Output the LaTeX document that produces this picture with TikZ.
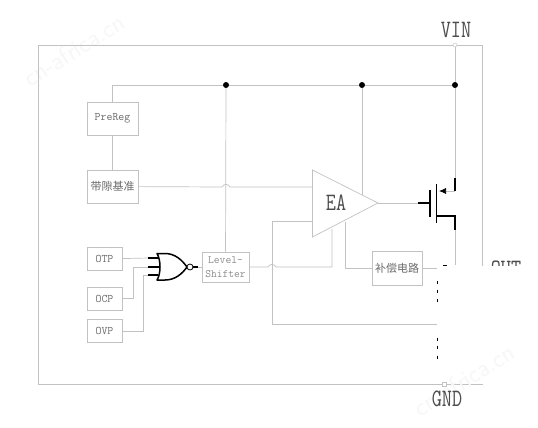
\documentclass[tikz,border=0pt]{standalone}
\usepackage{fontspec}
\usepackage{tikz}
\usetikzlibrary{arrows.meta,positioning}
\newfontfamily\cjkfont{Noto Sans CJK SC}
\definecolor{wireGrey}{gray}{0.76}
\definecolor{textGrey}{gray}{0.42}
\definecolor{markGrey}{gray}{0.968}
\newcommand\tallText[1]{\scalebox{.98}[1.25]{#1}}

\begin{document}
\begin{tikzpicture}[x=1pt,y=-1pt,
  wire/.style={draw=wireGrey,line width=.7pt},
  thick wire/.style={draw=black,line width=1.1pt},
  block/.style={draw=wireGrey,line width=.7pt,inner sep=0pt,text=textGrey,align=center,
    font=\ttfamily\fontsize{11.5}{12}\selectfont},
  cjk block/.style={block,font=\cjkfont\fontsize{11}{12}\selectfont},
  pinlabel/.style={text=black!70,font=\ttfamily\fontsize{20}{20}\selectfont},
  junction/.style={circle,fill=black,inner sep=0pt,minimum size=6pt},
  terminal/.style={draw=wireGrey,fill=white,inner sep=0pt,minimum size=4pt},
  watermark/.style={text=markGrey,rotate=32,font=\sffamily\fontsize{25}{25}\selectfont}]
\useasboundingbox (0,0) rectangle (538,428);
\fill[white] (0,0) rectangle (538,428);
\node[watermark] (markA) at (74,50) {cn-africa.cn};

\node[block,minimum width=51pt,minimum height=33pt] (prereg) at (112.5,118.5) {PreReg};
\node[cjk block,minimum width=51pt,minimum height=33pt] (bandgap) at (112.5,186.5) {带隙基准};
\node[block,minimum width=35pt,minimum height=23pt] (otp) at (104.5,259) {OTP};
\node[block,minimum width=35pt,minimum height=23pt] (ocp) at (104.5,298.5) {OCP};
\node[block,minimum width=35pt,minimum height=23pt] (ovp) at (104.5,331) {OVP};
\node[block,minimum width=47pt,minimum height=30pt,text=black!45,font=\ttfamily\fontsize{11.2}{14}\selectfont] (shifter) at (225.5,267) {Level-\\Shifter};
\node[cjk block,minimum width=50pt,minimum height=34pt] (comp) at (397,268) {补偿电路};
\node[pinlabel] (ea) at (336,203) {\tallText{EA}};

\coordinate (eaTop) at (312.5,170);
\coordinate (eaBot) at (312.5,237);
\coordinate (eaTip) at (378,203);
\coordinate (railEnd) at (112.5,85);
\coordinate (vin) at (455,45);
\coordinate (gnd) at (444,384);
\coordinate (gate) at (430,203);
\coordinate (source) at (455,191);
\coordinate (drain) at (455,216);
\coordinate (fbHigh) at (272,221);
\coordinate (fbLow) at (272,324);
\coordinate (fbEnd) at (437,324);
\node[junction] (railA) at (226,85) {};
\node[junction] (railB) at (362,85) {};
\node[junction] (railC) at (455,85) {};

% outline and supply rail
\draw[wire] (38,45) rectangle (482,384);
\draw[wire] (railEnd) -- (railA) -- (railB) -- (railC);
\draw[wire] (railEnd) -- (prereg);
\draw[wire] (prereg) -- (bandgap);
\draw[wire] (vin) -- (railC) -- (source);
\draw[wire] (railA) -- (shifter);
\draw[wire] (railB) -- (362,195);

% error amp and its inputs
\draw[wire] (eaTop) -- (eaTip) -- (eaBot) -- cycle;
\draw[wire] (bandgap) -- (222,187) .. controls (224.5,183.5) and (227.5,183.5) .. (230,187) -- (312.5,187);
\draw[wire] (fbEnd) -- (fbLow) -- (fbHigh) -- (312.5,221);
\draw[wire] (shifter) -- (268,267) .. controls (270,263.5) and (274,263.5) .. (276,267) -- (332,267) -- (332,229);
\draw[wire] (345,222) -- (345,268) -- (comp);
\draw[wire] (comp) -- (437,268);
\draw[wire] (eaTip) -- (gate);

% pass transistor
\draw[thick wire,line width=1.2pt] (418,203) -- (gate);
\draw[thick wire,line width=1.8pt] (430,190) -- (430,217);
\draw[thick wire,line width=1.8pt] (436.5,184) -- (436.5,223);
\draw[wire,-{Latex[black,length=7pt,width=6pt]}] (source) -- (439,191);
\draw[thick wire] (455,178) -- (source);
\draw[thick wire] (436.5,216) -- (drain) -- (455,230);
\draw[wire] (455,230) -- (455,265);

% fault gate
\draw[wire] (otp) -- (148,258);
\draw[wire] (ocp) -- (133,298.5) -- (133,267) -- (148,267);
\draw[wire] (ovp) -- (143,331) -- (143,275) -- (148,275);
\draw[thick wire] (148,258) -- (158,258) (148,267) -- (160,267) (148,275) -- (158,275);
\draw[draw=black,line width=1.5pt,line join=round] (157,253.5) .. controls (161,260) and (161,274) .. (157,280)
  -- (165,280) .. controls (175,280) and (182,274) .. (187,267)
  .. controls (182,260) and (175,253.5) .. (165,253.5) -- cycle;
\node[circle,draw=black,fill=white,line width=.8pt,inner sep=0pt,minimum size=6pt] (bubble) at (190,267) {};
\draw[thick wire] (bubble) -- (198,267);
\draw[wire] (198,267) -- (shifter);

% covered part of the figure
\node[pinlabel] (out) at (506,269) {\tallText{OUT}};
\fill[white] (438,266) rectangle (538,383.5);
\node[watermark] (markB) at (464,380) {cn-africa.cn};
\draw[thick wire,line width=.8pt] (443,265.5) -- (447,265.5);
\foreach \y in {282,291,300,339,347,357}
  \draw[thick wire,line width=.9pt] (437,\y-1.5) -- (437,\y+1.5);
\node[terminal,circle] (vinpin) at (vin) {};
\node[terminal] (gndpin) at (gnd) {};
\node[pinlabel] (vinlabel) at (456,30) {\tallText{VIN}};
\node[pinlabel] (gndlabel) at (447,399) {\tallText{GND}};
\end{tikzpicture}
\end{document}
